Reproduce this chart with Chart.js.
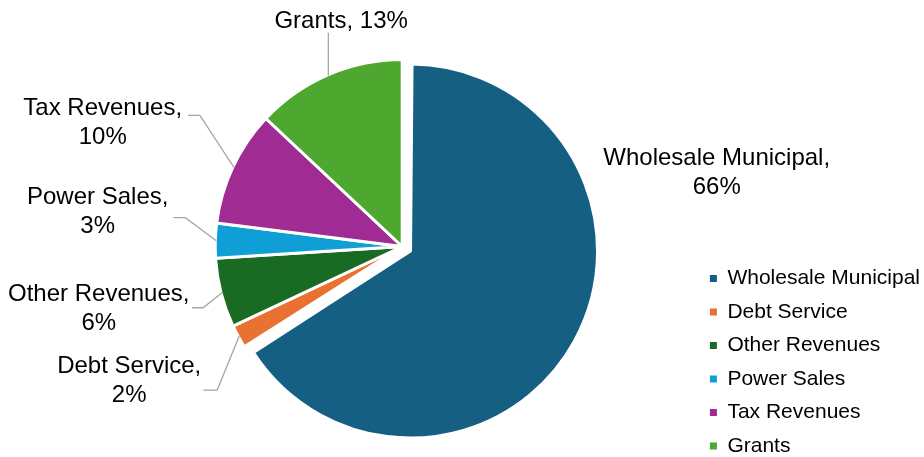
<!DOCTYPE html>
<html><head><meta charset="utf-8">
<script src="https://cdn.jsdelivr.net/npm/chart.js@4.4.1/dist/chart.umd.min.js"></script>
<style>html,body{margin:0;padding:0;background:#fff;}canvas{display:block;}</style>
</head><body>
<canvas id="c" width="924" height="457"></canvas>
<script>
// ---- data ----
const categories = ['Wholesale Municipal', 'Debt Service', 'Other Revenues', 'Power Sales', 'Tax Revenues', 'Grants'];
const shares = [66, 2, 6, 3, 10, 13];
const shareLabels = ['66%', '2%', '6%', '3%', '10%', '13%'];
const sliceColors = ['#156082', '#E97132', '#196B24', '#0F9ED5', '#A02B93', '#4EA72E'];
const explode = [38, 0, 0, 0, 0, 0];

// ---- label layout (offsets from slice edge midpoint) ----
const labelCenter = [[151.5, -163.6], [-110, 44.3], [-123.3, 16.2], [-118.6, -29.2], [-131.2, -44.3], [12.8, -54.8]];
const labelOneLine = [false, false, false, false, false, true];
const leaderPts = [[], [[-36, 54], [-22, 54]], [[-30, 15], [-19, 15]], [[-43, -23], [-31, -23]], [[-46, -52], [-34, -52]], [[0, -43]]];

const FONT = '"Liberation Sans", Arial, Helvetica, sans-serif';
const pieRadius = 187;
const legendShiftY = 12;
Chart.defaults.font.family = FONT;
Chart.defaults.color = '#000';

const sliceLabels = {
  id: 'sliceLabels',
  afterLayout(chart) {
    if (chart.legend) {
      chart.legend.top += legendShiftY;
      chart.legend.bottom += legendShiftY;
    }
  },
  afterDatasetUpdate(chart) {
    const meta = chart.getDatasetMeta(0);
    meta.data.forEach((arc, i) => {
      const off = explode[i] || 0;
      if (off) arc.outerRadius -= off / 4;
    });
  },
  afterDatasetsDraw(chart) {
    const ctx = chart.ctx;
    const meta = chart.getDatasetMeta(0);
    ctx.save();
    ctx.font = '24px ' + FONT;
    ctx.textAlign = 'center';
    ctx.textBaseline = 'middle';
    meta.data.forEach((arc, i) => {
      const mid = (arc.startAngle + arc.endAngle) / 2;
      const rr = pieRadius - 1;
      const ax = arc.x + Math.cos(mid) * rr;
      const ay = arc.y + Math.sin(mid) * rr;
      const pts = leaderPts[i];
      if (pts.length) {
        ctx.beginPath();
        ctx.strokeStyle = '#A6A6A6';
        ctx.lineWidth = 1.3;
        ctx.moveTo(ax + pts[0][0], ay + pts[0][1]);
        for (let k = 1; k < pts.length; k++) ctx.lineTo(ax + pts[k][0], ay + pts[k][1]);
        ctx.lineTo(ax, ay);
        ctx.stroke();
      }
      const lx = ax + labelCenter[i][0];
      const ly = ay + labelCenter[i][1];
      ctx.fillStyle = '#000';
      if (labelOneLine[i]) {
        ctx.fillText(categories[i] + ', ' + shareLabels[i], lx, ly);
      } else {
        ctx.fillText(categories[i] + ',', lx, ly - 14.5);
        ctx.fillText(shareLabels[i], lx, ly + 14.5);
      }
    });
    ctx.restore();
  }
};

new Chart(document.getElementById('c'), {
  type: 'pie',
  data: {
    labels: categories,
    datasets: [{
      data: shares,
      backgroundColor: sliceColors,
      borderColor: '#ffffff',
      borderWidth: 3,
      offset: explode,
      hoverOffset: 0
    }]
  },
  options: {
    responsive: false,
    animation: false,
    events: [],
    radius: pieRadius,
    layout: { padding: { left: 107, top: 36, bottom: 0, right: -6 } },
    plugins: {
      tooltip: { enabled: false },
      legend: {
        position: 'right',
        align: 'end',
        labels: {
          font: { size: 21, family: FONT },
          color: '#000',
          boxWidth: 7,
          boxHeight: 7,
          padding: 12.5,
          generateLabels(chart) {
            const items = Chart.overrides.doughnut.plugins.legend.labels.generateLabels(chart);
            return items.map(it => Object.assign({}, it, { lineWidth: 0, strokeStyle: 'rgba(0,0,0,0)' }));
          }
        }
      }
    }
  },
  plugins: [sliceLabels]
});
</script>
</body></html>
